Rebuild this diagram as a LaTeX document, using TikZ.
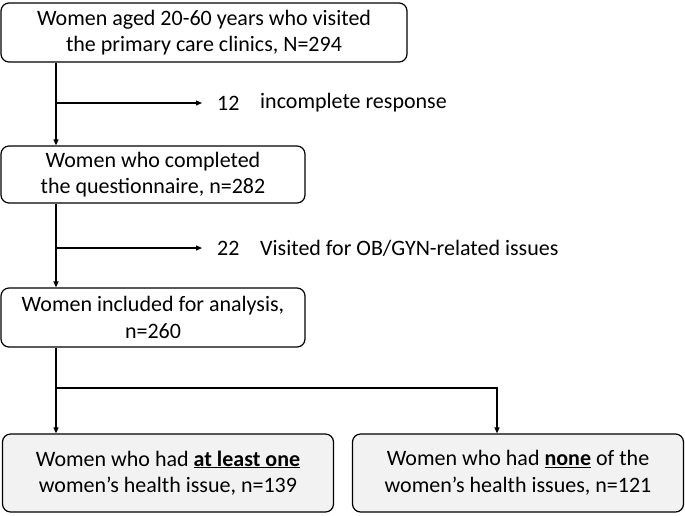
\documentclass[tikz,border=0pt]{standalone}
\usepackage{fontspec}
\setmainfont{Carlito}
\usetikzlibrary{arrows.meta}
\definecolor{boxgray}{HTML}{F2F2F2}
\begin{document}
\begin{tikzpicture}[x=1pt,y=-1pt,
  box/.style={draw, line width=1.2pt, rounded corners=8pt, inner sep=0pt, align=center,
    font=\fontsize{22}{26.5}\selectfont},
  graybox/.style={box, fill=boxgray},
  lbl/.style={inner sep=0pt, anchor=west, font=\fontsize{22}{26}\selectfont},
  num/.style={lbl, inner xsep=15pt},
  conn/.style={line width=1.2pt},
  arr/.style={conn, -{Triangle[length=6pt,width=5pt]}}]
\useasboundingbox (0,0) rectangle (685,515);
\node[box, minimum width=406pt, minimum height=59pt] (b1) at (204,32.5)
  {Women aged 20-60 years who visited\\the primary care clinics, N=294};
\node[box, minimum width=304pt, minimum height=57pt] (b2) at (153,174.5)
  {Women who completed\\the questionnaire, n=282};
\node[box, minimum width=304pt, minimum height=59pt] (b3) at (153,317.5)
  {Women included for analysis,\\n=260};
\node[graybox, minimum width=331pt, minimum height=78pt] (b4) at (168,473)
  {Women who had \textbf{\underline{at least one}}\\women’s health issue, n=139};
\node[graybox, minimum width=331pt, minimum height=78pt] (b5) at (518,473)
  {Women who had \textbf{\underline{none}} of the\\women’s health issues, n=121};
\coordinate (L) at (56,0);
\coordinate (R) at (497,0);
\coordinate (j1) at (56,103);
\coordinate (j2) at (56,248);
\coordinate (j3) at (56,388);
\node[num] (n1) at (202,103) {12};
\node[lbl] (t1) at (260,103) {incomplete response};
\node[num] (n2) at (202,248) {22};
\node[lbl] (t2) at (260,248) {Visited for OB/GYN-related issues};
\draw[arr] (b1.south -| L) -- (b2.north -| L);
\draw[arr] (j1) -- (n1.west);
\draw[arr] (b2.south -| L) -- (b3.north -| L);
\draw[arr] (j2) -- (n2.west);
\draw[arr] (b3.south -| L) -- (b4.north -| L);
\draw[arr] (j3) -- (j3 -| R) -- (b5.north -| R);
\end{tikzpicture}
\end{document}
